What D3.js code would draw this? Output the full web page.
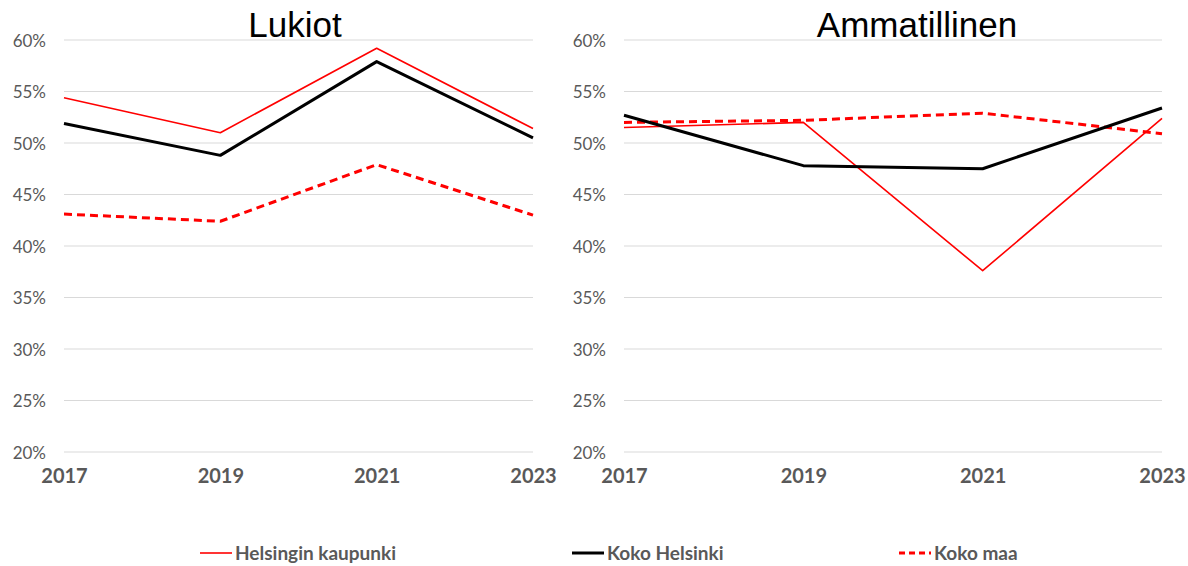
<!DOCTYPE html>
<html>
<head>
<meta charset="utf-8">
<script src="https://cdn.jsdelivr.net/npm/d3@7"></script>
<style>
  body { margin: 0; background: #fff; }
  svg { display: block; }
  .tick text { font-family: Lato, "Open Sans", sans-serif; fill: #595959; }
</style>
</head>
<body>
<div class="gv-chart"></div>
<script>
// years and y ticks
var years = ["2017", "2019", "2021", "2023"];
var yTicks = [0.20, 0.25, 0.30, 0.35, 0.40, 0.45, 0.50, 0.55, 0.60];

// Lukiot
var lukiotKaupunki = [0.544, 0.510, 0.592, 0.514];
var lukiotHelsinki = [0.519, 0.488, 0.579, 0.505];
var lukiotMaa = [0.431, 0.424, 0.479, 0.430];

// Ammatillinen
var ammKaupunki = [0.515, 0.520, 0.376, 0.524];
var ammHelsinki = [0.527, 0.478, 0.475, 0.534];
var ammMaa = [0.520, 0.522, 0.529, 0.509];

var seriesNames = ["Helsingin kaupunki", "Koko Helsinki", "Koko maa"];
var seriesStyle = [
    { colour: "#ff0000", width: 1.6, dash: null },
    { colour: "#000000", width: 3, dash: null },
    { colour: "#ff0000", width: 3, dash: "8,5" }
];

var panels = [
    { title: "Lukiot", titleX: 295, x0: 64, x1: 533, labelX: 45, series: [lukiotKaupunki, lukiotHelsinki, lukiotMaa] },
    { title: "Ammatillinen", titleX: 917, x0: 624, x1: 1162, labelX: 605, series: [ammKaupunki, ammHelsinki, ammMaa] }
];

var width = 1188, height = 566;
var svg = d3.select(".gv-chart").append("svg").attr("width", width).attr("height", height);

var y = d3.scaleLinear().domain([0.2, 0.6]).range([452, 40]);

panels.map(p => {
    var x = d3.scalePoint().domain(years).range([p.x0, p.x1]);
    var g = svg.append("g");

    // gridlines
    g.append("g").selectAll("line")
        .data(yTicks)
        .enter()
        .append("line")
        .attr("x1", p.x0)
        .attr("x2", p.x1)
        .attr("y1", d => y(d))
        .attr("y2", d => y(d))
        .attr("stroke", "#d9d9d9")
        .attr("stroke-width", 1);

    // y labels
    var yAxis = g.append("g")
        .attr("transform", `translate(${p.labelX + 1},0)`)
        .call(d3.axisLeft(y).tickValues(yTicks).tickFormat(d3.format(".0%")).tickSize(0).tickPadding(0));
    yAxis.select(".domain").remove();
    yAxis.selectAll("text").attr("font-size", 17).attr("dy", "0.36em");

    // x labels
    var xAxis = g.append("g")
        .attr("transform", "translate(0,469)")
        .call(d3.axisBottom(x).tickSize(0).tickPadding(0));
    xAxis.select(".domain").remove();
    xAxis.selectAll("text").attr("font-size", 20).attr("font-weight", "bold").attr("dy", "0.71em");

    // title
    g.append("text")
        .attr("x", p.titleX)
        .attr("y", 37)
        .attr("text-anchor", "middle")
        .attr("font-family", "'Liberation Sans', Arial, sans-serif")
        .attr("font-size", 35)
        .attr("fill", "#000")
        .text(p.title);

    var line = d3.line()
        .x((d, i) => x(years[i]))
        .y(d => y(d));

    // draw dashed first, then thin red, then black on top
    [2, 0, 1].map(k => {
        var s = seriesStyle[k];
        g.append("path")
            .datum(p.series[k])
            .attr("d", line)
            .attr("fill", "none")
            .attr("stroke", s.colour)
            .attr("stroke-width", s.width)
            .attr("stroke-dasharray", s.dash)
            .attr("stroke-linejoin", "round");
    });
});

// legend
var legendX = [200, 572, 899];
var legend = svg.append("g").selectAll("g.key")
    .data(seriesNames)
    .enter()
    .append("g")
    .attr("transform", (d, i) => `translate(${legendX[i]},553)`);

legend.append("line")
    .attr("x1", 0)
    .attr("x2", 32)
    .attr("stroke", (d, i) => seriesStyle[i].colour)
    .attr("stroke-width", (d, i) => seriesStyle[i].width)
    .attr("stroke-dasharray", (d, i) => seriesStyle[i].dash ? "6,4" : null);

legend.append("text")
    .attr("x", 35)
    .attr("dy", "0.36em")
    .attr("font-family", "Lato, 'Open Sans', sans-serif")
    .attr("font-size", 19)
    .attr("font-weight", "bold")
    .attr("fill", "#595959")
    .text(d => d);
</script>
</body>
</html>
